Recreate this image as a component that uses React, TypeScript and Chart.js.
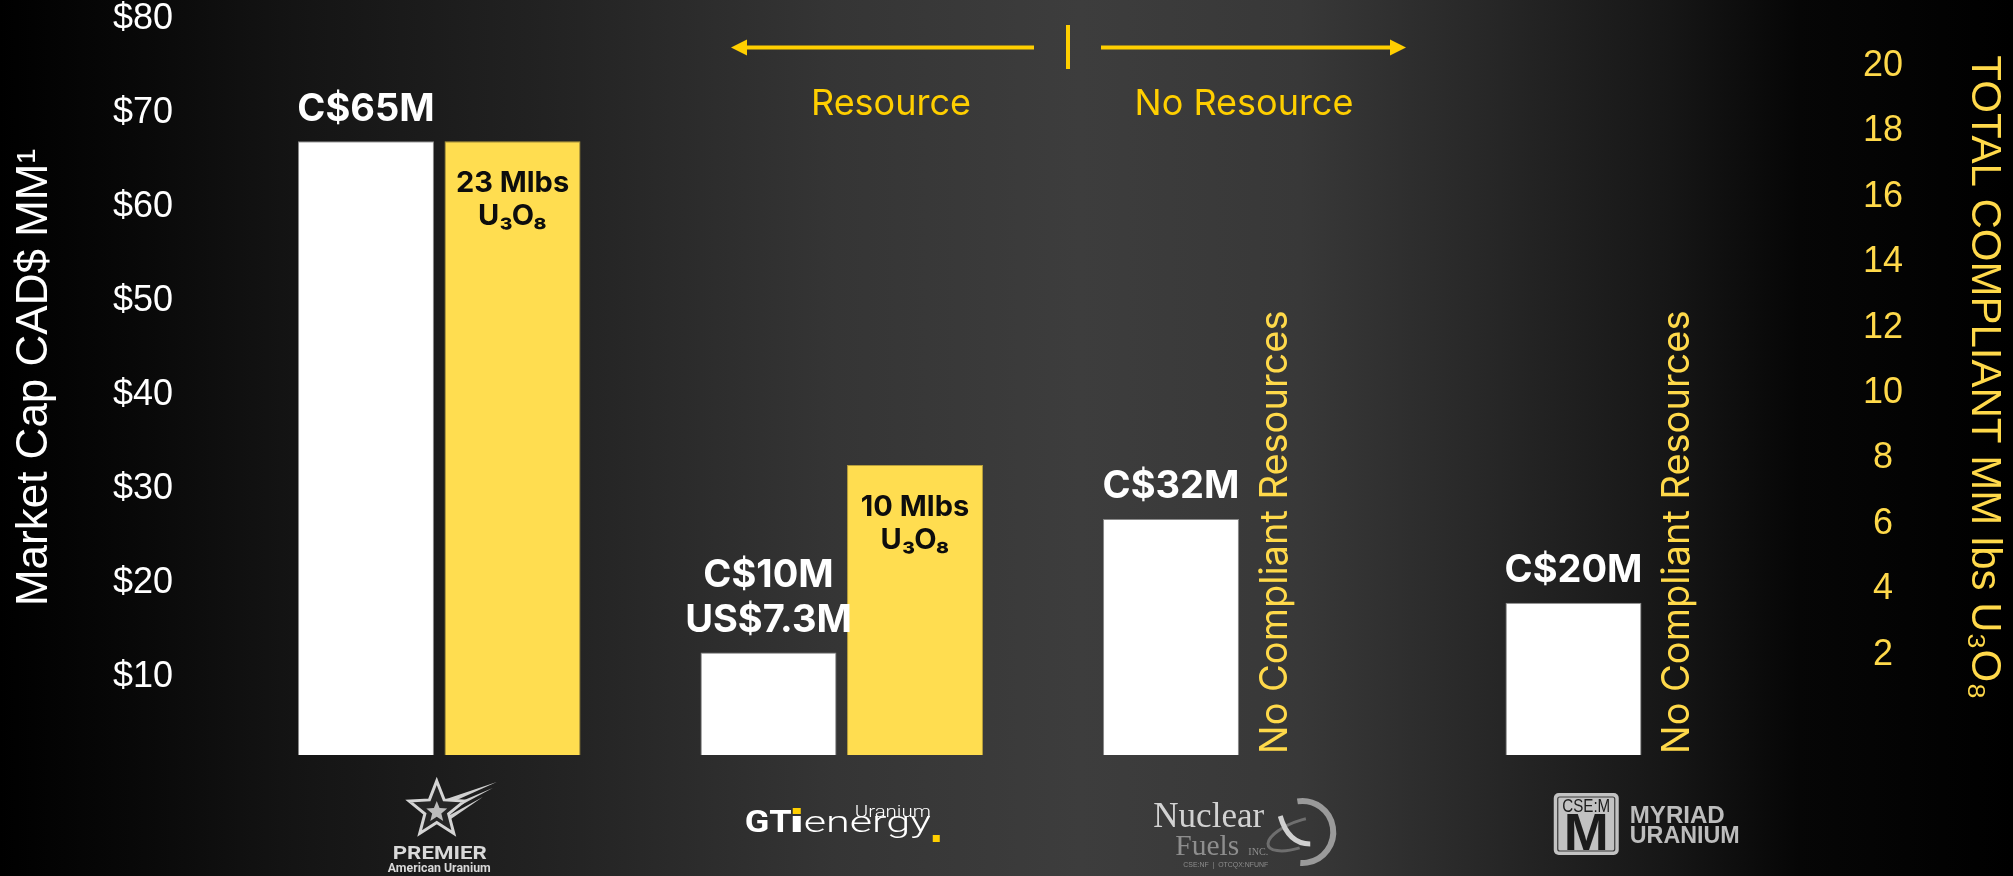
import { useEffect, useRef } from "react";
import { Chart, registerables } from "chart.js";

Chart.register(...registerables);

// ---------------- data ----------------
const COMPANIES = ["Premier American Uranium", "GTI Energy", "Nuclear Fuels", "Myriad Uranium"];
// market cap bars as drawn against the left axis (C$ MM)
const MARKET_CAP = [67.0, 12.6, 26.8, 17.9];
const MARKET_CAP_LABELS = [["C$65M"], ["C$10M", "US$7.3M"], ["C$32M"], ["C$20M"]];
// compliant resource bars as drawn against the right axis (MM lbs U3O8)
const RESOURCE_MLBS = [17.7, 7.8, null, null];
const RESOURCE_LABELS = [["23 Mlbs", "U₃O₈"], ["10 Mlbs", "U₃O₈"], null, null];
const NO_RESOURCE_NOTE = [null, null, "No Compliant Resources", "No Compliant Resources"];
const MCAP_TICKS = [10, 20, 30, 40, 50, 60, 70, 80];
const LBS_TICKS = [2, 4, 6, 8, 10, 12, 14, 16, 18, 20];
const Y_MIN = 1.7;
const Y_MAX = 82.02;
const Y2_MIN = -1.07;
const Y2_MAX = 22.02;
const LEFT_TITLE = "Market Cap CAD$ MM¹";
const RIGHT_TITLE = "TOTAL COMPLIANT MM lbs U₃O₈";
const GROUP_LEFT = "Resource";
const GROUP_RIGHT = "No Resource";

// ---------------- styles ----------------
const YELLOW_BAR = "#FFDD50";
const YELLOW_TEXT = "#FFD94A";
const YELLOW_ARROW = "#FFCF00";
const SANS = '"Liberation Sans", Arial, sans-serif';
const INTER = 'Inter, "Noto Sans", sans-serif';

function textW(ctx: any, text: string, x: number, y: number, width: number, align = "left") {
  const m = ctx.measureText(text).width || 1;
  const s = width / m;
  const left = align === "left" ? x : align === "center" ? x - width / 2 : x - width;
  ctx.save();
  ctx.textAlign = "left";
  ctx.translate(left, y);
  ctx.scale(s, 1);
  ctx.fillText(text, 0, 0);
  ctx.restore();
}

function starPath(ctx: any, x: number, y: number, R: number, r: number) {
  ctx.beginPath();
  for (let k = 0; k < 10; k++) {
    const a = -Math.PI / 2 + (k * Math.PI) / 5;
    const rad = k % 2 === 0 ? R : r;
    const px = x + rad * Math.cos(a);
    const py = y + rad * Math.sin(a);
    if (k === 0) ctx.moveTo(px, py);
    else ctx.lineTo(px, py);
  }
  ctx.closePath();
}

function drawPremier(ctx: any, cx: number) {
  const sx = cx - 2.5;
  const sy = 810;
  ctx.save();
  // streaks
  ctx.fillStyle = "#cfcfcf";
  const streaks = [
    [4, -6, 60, -28, 6],
    [8, 1, 56, -22, 5],
    [12, 8, 46, -13, 4],
  ];
  streaks.forEach(([bx, by, tx, ty, w]) => {
    const dx = tx - bx;
    const dy = ty - by;
    const len = Math.hypot(dx, dy);
    const nx = (-dy / len) * (w / 2);
    const ny = (dx / len) * (w / 2);
    ctx.beginPath();
    ctx.moveTo(sx + bx + nx, sy + by + ny);
    ctx.lineTo(sx + bx - nx, sy + by - ny);
    ctx.lineTo(sx + tx, sy + ty);
    ctx.closePath();
    ctx.fill();
  });
  starPath(ctx, sx, sy, 29, 12.5);
  ctx.fillStyle = "#262626";
  ctx.fill();
  ctx.lineWidth = 3;
  ctx.strokeStyle = "#d4d4d4";
  ctx.lineJoin = "miter";
  ctx.stroke();
  starPath(ctx, sx, sy + 2, 11, 4.8);
  ctx.fillStyle = "#bdbdbd";
  ctx.fill();
  ctx.fillStyle = "#d9d9d9";
  ctx.textBaseline = "alphabetic";
  ctx.font = `bold 19px Roboto, ${SANS}`;
  textW(ctx, "PREMIER", cx + 0.5, 859, 94, "center");
  ctx.font = `bold 12px Roboto, ${SANS}`;
  textW(ctx, "American Uranium", cx, 872, 103, "center");
  ctx.restore();
}

function drawGti(ctx: any, cx: number) {
  const x0 = cx - 97;
  const base = 832;
  ctx.save();
  ctx.textBaseline = "alphabetic";
  ctx.fillStyle = "#ffffff";
  ctx.font = `bold 31px Roboto, ${SANS}`;
  textW(ctx, "GT", x0, base, 47);
  const ix = x0 + 48;
  ctx.fillRect(ix, 816, 8, 16);
  ctx.fillStyle = YELLOW_ARROW;
  ctx.fillRect(ix, 808, 8, 6);
  ctx.fillStyle = "#ffffff";
  ctx.font = `300 29px Roboto, ${SANS}`;
  const ex = ix + 11;
  textW(ctx, "energy", ex, base, 127);
  ctx.fillStyle = YELLOW_ARROW;
  ctx.fillRect(ex + 129, 835, 7, 7);
  ctx.fillStyle = "#ffffff";
  ctx.font = `300 16px Roboto, ${SANS}`;
  textW(ctx, "Uranium", ex + 127, 817, 76, "right");
  ctx.restore();
}

function drawNuclear(ctx: any, cx: number) {
  ctx.save();
  ctx.textBaseline = "alphabetic";
  ctx.fillStyle = "#d2d2d2";
  ctx.font = '35px "Liberation Serif", serif';
  textW(ctx, "Nuclear", cx - 91, 827, 111);
  ctx.fillStyle = "#8e8e8e";
  ctx.font = '30px "Liberation Serif", serif';
  textW(ctx, "Fuels", cx - 69, 855, 64);
  ctx.font = '10px "Liberation Serif", serif';
  textW(ctx, "INC.", cx + 4, 855, 20);
  ctx.font = `7px ${SANS}`;
  textW(ctx, "CSE:NF  |  OTCQX:NFUNF", cx - 61, 867, 85);
  // swoosh
  const ox = cx + 62;
  const oy = 832;
  ctx.strokeStyle = "#9a9a9a";
  ctx.lineWidth = 6;
  ctx.beginPath();
  ctx.arc(ox - 4, oy, 31, -Math.PI * 0.55, Math.PI * 0.52);
  ctx.stroke();
  ctx.strokeStyle = "#6e6e6e";
  ctx.lineWidth = 3;
  ctx.beginPath();
  ctx.ellipse(ox - 6, oy + 2, 34, 13, -0.35, Math.PI * 0.55, Math.PI * 1.6);
  ctx.stroke();
  ctx.strokeStyle = "#d0d0d0";
  ctx.lineWidth = 5;
  ctx.beginPath();
  ctx.moveTo(ox - 26, oy - 16);
  ctx.quadraticCurveTo(ox - 18, oy + 12, ox + 4, oy + 12);
  ctx.stroke();
  ctx.restore();
}

function drawMyriad(ctx: any, cx: number) {
  const bx = cx - 93;
  const by = 793;
  const bw = 65;
  const bh = 62;
  ctx.save();
  ctx.fillStyle = "#c2c2c2";
  ctx.beginPath();
  ctx.roundRect(bx, by, bw, bh, 5);
  ctx.fill();
  ctx.strokeStyle = "#3a3a3a";
  ctx.lineWidth = 1.2;
  ctx.beginPath();
  ctx.roundRect(bx + 4, by + 4, bw - 8, bh - 8, 2);
  ctx.stroke();
  ctx.fillStyle = "#1c1c1c";
  ctx.textBaseline = "alphabetic";
  ctx.font = `18px ${SANS}`;
  textW(ctx, "CSE:M", bx + bw / 2, 812, 48, "center");
  ctx.font = `bold 51px ${SANS}`;
  textW(ctx, "M", bx + bw / 2, 850, 45, "center");
  ctx.fillStyle = "#bdbdbd";
  ctx.font = `bold 24px ${SANS}`;
  textW(ctx, "MYRIAD", cx - 17, 823, 95);
  textW(ctx, "URANIUM", cx - 17, 843, 110);
  ctx.restore();
}

const LOGO_DRAWERS = [drawPremier, drawGti, drawNuclear, drawMyriad];

const annotationPlugin = {
  id: "annotations",
  afterDatasetsDraw(chart: any) {
    const ctx = chart.ctx;
    const capMeta = chart.getDatasetMeta(0);
    const resMeta = chart.getDatasetMeta(1);
    const area = chart.chartArea;
    const xs = chart.scales.x;
    ctx.save();

    // market cap labels above white bars
    ctx.textAlign = "center";
    ctx.textBaseline = "middle";
    ctx.fillStyle = "#ffffff";
    ctx.font = `700 38px ${INTER}`;
    MARKET_CAP_LABELS.forEach((lines, i) => {
      const bar = capMeta.data[i];
      if (!bar) return;
      lines.forEach((t, k) => {
        const y = bar.y - 32 - (lines.length - 1 - k) * 45;
        ctx.fillText(t, bar.x, y);
      });
    });

    // resource labels inside yellow bars
    ctx.fillStyle = "#0d0d0d";
    ctx.font = `700 29px ${INTER}`;
    RESOURCE_LABELS.forEach((lines, i) => {
      const bar = resMeta.data[i];
      if (!lines || !bar || RESOURCE_MLBS[i] == null) return;
      lines.forEach((t, k) => {
        ctx.fillText(t, bar.x, bar.y + 42 + k * 33);
      });
    });

    // vertical "No Compliant Resources" notes
    ctx.fillStyle = YELLOW_TEXT;
    ctx.font = `400 38px ${INTER}`;
    ctx.textAlign = "left";
    ctx.textBaseline = "alphabetic";
    NO_RESOURCE_NOTE.forEach((note, i) => {
      const bar = capMeta.data[i];
      if (!note || !bar) return;
      ctx.save();
      ctx.translate(bar.x + bar.width / 2 + 48, area.bottom - 1);
      ctx.rotate(-Math.PI / 2);
      ctx.fillText(note, 0, 0);
      ctx.restore();
    });

    // top divider with arrows
    const dividerX = (xs.getPixelForValue(1) + xs.getPixelForValue(2)) / 2 + 25;
    const ay = 47.5;
    ctx.fillStyle = YELLOW_ARROW;
    ctx.strokeStyle = YELLOW_ARROW;
    ctx.lineWidth = 4;
    ctx.fillRect(dividerX - 2, 25, 4, 44);
    // left arrow
    ctx.beginPath();
    ctx.moveTo(dividerX - 34, ay);
    ctx.lineTo(dividerX - 322, ay);
    ctx.stroke();
    ctx.beginPath();
    ctx.moveTo(dividerX - 337, ay);
    ctx.lineTo(dividerX - 321, ay - 8);
    ctx.lineTo(dividerX - 321, ay + 8);
    ctx.closePath();
    ctx.fill();
    // right arrow
    ctx.beginPath();
    ctx.moveTo(dividerX + 33, ay);
    ctx.lineTo(dividerX + 323, ay);
    ctx.stroke();
    ctx.beginPath();
    ctx.moveTo(dividerX + 338, ay);
    ctx.lineTo(dividerX + 322, ay - 8);
    ctx.lineTo(dividerX + 322, ay + 8);
    ctx.closePath();
    ctx.fill();
    ctx.font = `400 36px ${INTER}`;
    ctx.textAlign = "center";
    ctx.textBaseline = "alphabetic";
    ctx.fillText(GROUP_LEFT, dividerX - 177, 115);
    ctx.fillText(GROUP_RIGHT, dividerX + 176, 115);

    // company logos (as text) under each category
    COMPANIES.forEach((_, i) => {
      const cx = xs.getPixelForValue(i);
      LOGO_DRAWERS[i](ctx, cx);
    });

    ctx.restore();
  },
};

export default function App() {
  const ref = useRef<HTMLCanvasElement>(null);

  useEffect(() => {
    const canvas = ref.current;
    if (!canvas) return;
    const chart = new Chart(canvas, {
      type: "bar",
      data: {
        labels: COMPANIES,
        datasets: [
          {
            label: "Market Cap (C$ MM)",
            data: MARKET_CAP,
            backgroundColor: "#ffffff",
            borderColor: "#8a8a8a",
            borderWidth: 1,
            yAxisID: "y",
            base: Y_MIN,
            categoryPercentage: 0.728,
            barPercentage: 0.928,
          },
          {
            label: "Total Compliant MM lbs U3O8",
            data: RESOURCE_MLBS,
            backgroundColor: YELLOW_BAR,
            borderColor: "#b59d3c",
            borderWidth: 1,
            yAxisID: "y2",
            base: Y2_MIN,
            categoryPercentage: 0.728,
            barPercentage: 0.928,
          },
        ],
      } as any,
      options: {
        responsive: false,
        animation: false,
        devicePixelRatio: 1,
        layout: { padding: { left: 0, right: 0, top: 0, bottom: 121 } },
        plugins: {
          legend: { display: false },
          tooltip: { enabled: false },
        },
        scales: {
          x: {
            type: "category",
            display: false,
            offset: true,
            grid: { display: false },
          },
          y: {
            type: "linear",
            position: "left",
            min: Y_MIN,
            max: Y_MAX,
            bounds: "data",
            afterBuildTicks: (s: any) => {
              s.ticks = MCAP_TICKS.map((v) => ({ value: v }));
            },
            afterFit: (s: any) => {
              s.width = 238;
              s.paddingTop = 0;
              s.paddingBottom = 0;
            },
            ticks: {
              autoSkip: false,
              padding: 65,
              color: "#ffffff",
              font: { family: SANS, size: 36 },
              callback: (v: any) => "$" + v,
            },
            grid: { display: false, drawTicks: false },
            border: { display: false },
            title: {
              display: true,
              text: LEFT_TITLE,
              color: "#ffffff",
              font: { family: SANS, size: 44 },
              padding: { top: 8, bottom: 0 },
            },
          },
          y2: {
            type: "linear",
            position: "right",
            min: Y2_MIN,
            max: Y2_MAX,
            bounds: "data",
            afterBuildTicks: (s: any) => {
              s.ticks = LBS_TICKS.map((v) => ({ value: v }));
            },
            afterFit: (s: any) => {
              s.width = 165;
              s.paddingTop = 0;
              s.paddingBottom = 0;
            },
            ticks: {
              autoSkip: false,
              padding: 15,
              crossAlign: "center",
              color: YELLOW_TEXT,
              font: { family: SANS, size: 36 },
            },
            grid: { display: false, drawTicks: false },
            border: { display: false },
            title: {
              display: true,
              text: RIGHT_TITLE,
              color: YELLOW_TEXT,
              font: { family: SANS, size: 42 },
              padding: { top: 4, bottom: 0 },
            },
          },
        },
      } as any,
      plugins: [annotationPlugin],
    });
    let alive = true;
    if ((document as any).fonts && (document as any).fonts.ready) {
      (document as any).fonts.ready.then(() => {
        if (alive) chart.draw();
      });
    }
    return () => {
      alive = false;
      chart.destroy();
    };
  }, []);

  return (
    <div
      style={{
        position: "fixed",
        left: 0,
        top: 0,
        width: 2013,
        height: 876,
        overflow: "hidden",
        background:
          "linear-gradient(90deg, #000000 0%, #080808 6.5%, #141414 14.6%, #242424 28.8%, #353535 41.5%, #3d3d3d 53.7%, #383838 64.6%, #262626 74.5%, #161616 83%, #060606 89.4%, #000000 100%)",
      }}
    >
      <canvas ref={ref} width={2013} height={876} style={{ display: "block", width: 2013, height: 876 }} />
    </div>
  );
}
